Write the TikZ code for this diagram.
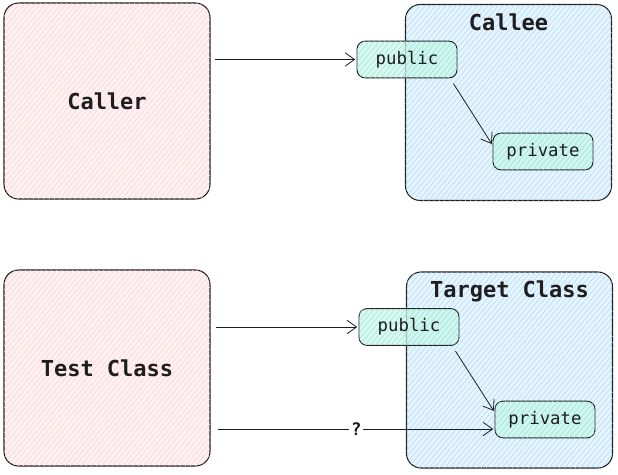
\documentclass[tikz,border=0pt]{standalone}
\usepackage{fontspec}
\setmonofont{DejaVu Sans Mono}
\usetikzlibrary{arrows.meta,patterns.meta,positioning}

\definecolor{ink}{HTML}{1E1E1E}
\definecolor{pinkfill}{HTML}{FDF1F2}
\definecolor{pinkline}{HTML}{FFCDD0}
\definecolor{bluefill}{HTML}{E6F4FD}
\definecolor{blueline}{HTML}{A8D9FA}
\definecolor{tealfill}{HTML}{CDF6EC}
\definecolor{tealline}{HTML}{8EE8D2}

\begin{document}
\begin{tikzpicture}[x=0.75pt,y=-0.75pt,>={Straight Barb[length=7pt,width=10pt]},font=\ttfamily,line width=0.6pt]
    \tikzstyle{box}=[draw=ink,line width=0.8pt,rounded corners=11pt,minimum width=154.5pt,minimum height=147pt,inner sep=0pt,text=ink,font=\ttfamily\bfseries\fontsize{16.5}{19}\selectfont]
    \tikzstyle{side}=[box,fill=pinkfill,postaction={pattern={Lines[angle=50,distance=3pt,line width=0.35pt]},pattern color=pinkline}]
    \tikzstyle{cls}=[box,fill=bluefill,postaction={pattern={Lines[angle=50,distance=3pt,line width=0.35pt]},pattern color=blueline}]
    \tikzstyle{method}=[draw=ink,line width=0.7pt,rounded corners=6pt,minimum width=75pt,minimum height=27.5pt,inner sep=0pt,text=ink,fill=tealfill,fill opacity=0.75,text opacity=1,font=\ttfamily\fontsize{13}{15}\selectfont,postaction={pattern={Lines[angle=50,distance=3pt,line width=0.35pt]},pattern color=tealline}]
    \tikzstyle{title}=[inner sep=0pt,text=ink,font=\ttfamily\bfseries\fontsize{16.5}{19}\selectfont]
    \useasboundingbox (0,0) rectangle (618,475);

    % upper pair
    \node[side] (caller) at (107,101) {Caller};
    \node[cls] (callee) at (508.5,102.5) {};
    \node[title,below=7pt of callee.north] (calleetitle) {Callee};
    \node[method] (pub1) at (407,59.5) {public};
    \node[method] (priv1) at (543,151.5) {private};

    % lower pair
    \node[side] (tester) at (107,368) {Test Class};
    \node[cls] (target) at (509.5,370) {};
    \node[title,below=7pt of target.north] (targettitle) {Target Class};
    \node[method] (pub2) at (409,327) {public};
    \node[method] (priv2) at (545,419.5) {private};

    \coordinate (q) at (218,429);

    \path[->,shorten >=1pt,color=ink] (caller.east |- pub1.west) edge[shorten <=3pt] (pub1.west)
    ([xshift=-3pt,yshift=-4pt]pub1.south east) edge ([yshift=4.8pt]priv1.west)
    (tester.east |- pub2.west) edge[shorten <=4pt] (pub2.west)
    ([xshift=-3pt,yshift=-4pt]pub2.south east) edge ([yshift=5.6pt]priv2.west)
    (q) edge node[fill=white,inner sep=1.5pt,text=ink,font=\ttfamily\bfseries\fontsize{13}{15}\selectfont] {?} (q -| priv2.west);
\end{tikzpicture}
\end{document}
